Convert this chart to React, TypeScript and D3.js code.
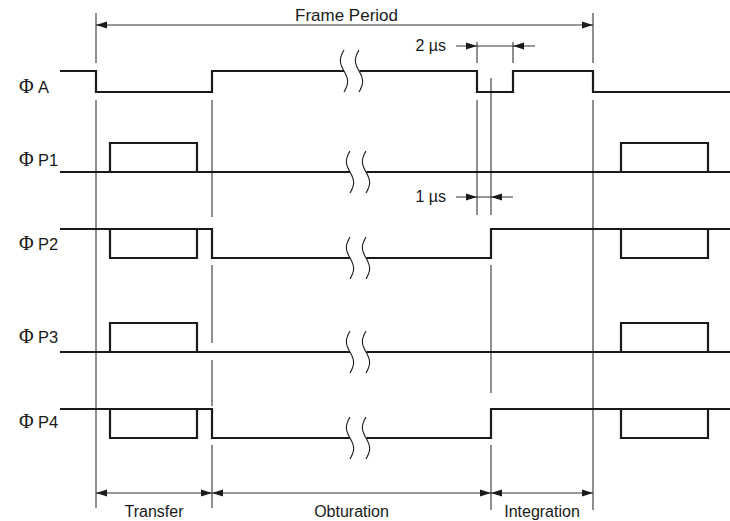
import React from "react";
import * as d3 from "d3";

const W = 730;
const H = 521;

// time axis in arbitrary units
const timeDomain = [0, 670];

// signals: base level transitions plus superimposed pulses
const signalLabels = ["A", "P1", "P2", "P3", "P4"];
const signalInitial = [1, 0, 1, 0, 1];
const signalEdges = [
  [36, 152, 417, 453, 533],
  [],
  [152, 431],
  [],
  [152, 431],
];
const signalPulses = [
  [],
  [[50, 137], [561, 648]],
  [[50, 137], [561, 648]],
  [[50, 137], [561, 648]],
  [[50, 137], [561, 648]],
];
const breakTimes = [
  [284, 299],
  [290, 306],
  [290, 306],
  [290, 306],
  [290, 306],
];

// guide times (vertical reference lines)
const guideTimes = [36, 152, 417, 431, 453, 533];

// dimension annotations
const framePeriod = { from: 36, to: 533, label: "Frame Period" };
const phases = [
  { from: 36, to: 152, label: "Transfer" },
  { from: 152, to: 431, label: "Obturation" },
  { from: 431, to: 533, label: "Integration" },
];
const pulseWidths = [
  { from: 417, to: 453, label: "2 \u00b5s" },
  { from: 417, to: 431, label: "1 \u00b5s" },
];

// ---- layout (styles/positions) ----
const rowHigh = [71, 143, 229, 323, 409];
const rowLow = [92, 172, 258, 352, 438];
const labelBaseline = [93, 166, 250, 343, 428];
const guideSegments = [
  [[13, 63], [100, 508]],
  [[100, 217], [265, 343], [360, 406], [445, 508]],
  [[42, 63], [100, 215]],
  [[78, 215], [265, 393], [445, 510]],
  [[42, 63]],
  [[13, 63], [100, 510]],
];
const frameY = 25;
const phaseY = 493;
const pulseY = [46, 197];
const pulseLabelY = [51, 202];

const INK = "#1a1a1a";
const SANS = "'Liberation Sans', Arial, Helvetica, sans-serif";
const SERIF = "'Liberation Serif', 'Times New Roman', serif";

const x = d3.scaleLinear().domain(timeDomain).range([60, 730]);

function levelAt(initial: number, edges: number[], t: number) {
  let lv = initial;
  for (const e of edges) if (e <= t) lv = 1 - lv;
  return lv;
}

function stepPoints(initial: number, edges: number[], t0: number, t1: number) {
  const pts: [number, number][] = [];
  let lv = levelAt(initial, edges, t0);
  pts.push([t0, lv]);
  for (const e of edges) {
    if (e > t0 && e < t1) {
      pts.push([e, lv]);
      lv = 1 - lv;
      pts.push([e, lv]);
    }
  }
  pts.push([t1, lv]);
  return pts;
}

function arrowHead(tx: number, ty: number, dir: number) {
  const L = 11;
  const w = 3.6;
  return `M${tx},${ty} L${tx - dir * L},${ty - w} L${tx - dir * L},${ty + w} Z`;
}

function breakPath(cx: number, cy: number) {
  const pts = d3.range(0, 1.0001, 0.05).map((t) => [
    cx - 3.6 * Math.sin(2 * Math.PI * t),
    cy - 21 + 42 * t,
  ]) as [number, number][];
  return d3.line().curve(d3.curveCatmullRom)(pts) || "";
}

export default function App() {
  const rows = signalLabels.map((lab, i) => {
    const y = d3.scaleLinear().domain([0, 1]).range([rowLow[i], rowHigh[i]]);
    const line = d3
      .line<[number, number]>()
      .x((d) => x(d[0]))
      .y((d) => y(d[1]));
    const [b1, b2] = breakTimes[i];
    const seg1 = stepPoints(signalInitial[i], signalEdges[i], timeDomain[0], b1);
    const seg2 = stepPoints(signalInitial[i], signalEdges[i], b2 + 0.4, timeDomain[1]);
    const by = y(levelAt(signalInitial[i], signalEdges[i], b1));
    const pulses = signalPulses[i].map(([a, b], k) => {
      const base = levelAt(signalInitial[i], signalEdges[i], a);
      const pts: [number, number][] = [
        [a, base],
        [a, 1 - base],
        [b, 1 - base],
        [b, base],
      ];
      return (
        <path key={k} d={line(pts) || ""} fill="none" stroke={INK} strokeWidth={2.2} strokeLinejoin="miter" />
      );
    });
    return (
      <g key={lab}>
        <path d={line(seg1) || ""} fill="none" stroke={INK} strokeWidth={2.2} strokeLinejoin="miter" />
        <path d={line(seg2) || ""} fill="none" stroke={INK} strokeWidth={2.2} strokeLinejoin="miter" />
        {pulses}
        <path d={breakPath(x(b1), by)} fill="none" stroke={INK} strokeWidth={1.1} />
        <path d={breakPath(x(b2), by)} fill="none" stroke={INK} strokeWidth={1.1} />
        <text x={19} y={labelBaseline[i]} fontFamily={SERIF} fontSize={20} fill={INK}>
          {"\u03a6"}
        </text>
        <text x={38} y={labelBaseline[i]} fontFamily={SANS} fontSize={16.5} fill={INK}>
          {lab}
        </text>
      </g>
    );
  });

  const guides = guideTimes.map((t, i) =>
    guideSegments[i].map((s, j) => (
      <line key={`g${i}-${j}`} x1={x(t)} x2={x(t)} y1={s[0]} y2={s[1]} stroke="#333" strokeWidth={1.1} />
    ))
  );

  const dim = (from: number, to: number, yy: number, key: string) => (
    <g key={key}>
      <line x1={x(from)} x2={x(to)} y1={yy} y2={yy} stroke="#333" strokeWidth={1.1} />
      <path d={arrowHead(x(from), yy, -1)} fill={INK} />
      <path d={arrowHead(x(to), yy, 1)} fill={INK} />
    </g>
  );

  return (
    <svg width={W} height={H} style={{ position: "absolute", left: 0, top: 0, background: "#fff" }}>
      <rect width={W} height={H} fill="#fff" />
      {guides}
      {dim(framePeriod.from, framePeriod.to, frameY, "frame")}
      <text
        x={(x(framePeriod.from) + x(framePeriod.to)) / 2 + 2}
        y={frameY - 4}
        textAnchor="middle"
        fontFamily={SANS}
        fontSize={17}
        fill={INK}
      >
        {framePeriod.label}
      </text>
      {phases.map((p, i) => (
        <g key={p.label}>
          {dim(p.from, p.to, phaseY, `ph${i}`)}
          <text
            x={(x(p.from) + x(p.to)) / 2}
            y={phaseY + 24}
            textAnchor="middle"
            fontFamily={SANS}
            fontSize={16}
            fill={INK}
          >
            {p.label}
          </text>
        </g>
      ))}
      {pulseWidths.map((p, i) => {
        const yy = pulseY[i];
        const x1 = x(p.from);
        const x2 = x(p.to);
        return (
          <g key={p.label}>
            <line x1={x1 - 21} x2={x2 + 22} y1={yy} y2={yy} stroke="#333" strokeWidth={1.1} />
            <path d={arrowHead(x1, yy, 1)} fill={INK} />
            <path d={arrowHead(x2, yy, -1)} fill={INK} />
            <text x={x1 - 31} y={pulseLabelY[i]} textAnchor="end" fontFamily={SANS} fontSize={16} fill={INK}>
              {p.label}
            </text>
          </g>
        );
      })}
      {rows}
    </svg>
  );
}
